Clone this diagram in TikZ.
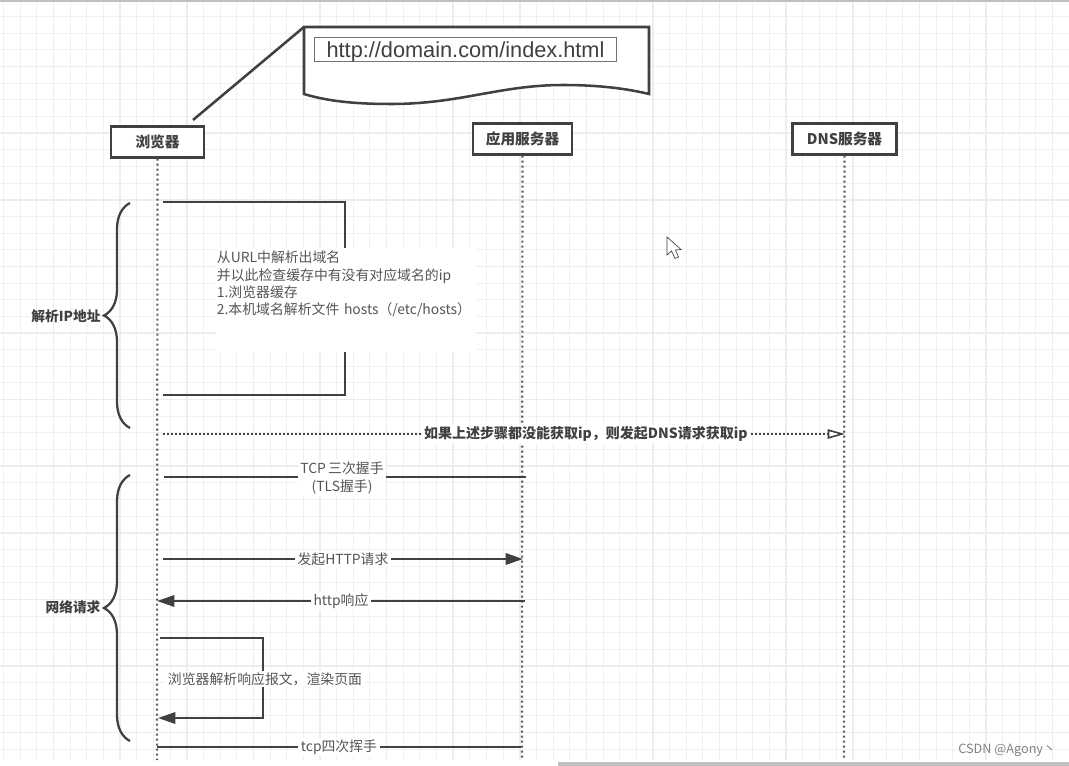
\documentclass[tikz,border=0pt]{standalone}
\usepackage{fontspec}
\setmainfont{Noto Sans CJK SC}
\newfontfamily\urlfont{Liberation Sans}
\usetikzlibrary{arrows.meta,decorations.pathreplacing}
\definecolor{inkline}{HTML}{404040}
\definecolor{inktext}{HTML}{555555}
\begin{document}
\begin{tikzpicture}[
    x=0.75pt, y=-0.75pt,
    minorgrid/.style={draw=black!6, line width=0.7pt},
    majorgrid/.style={draw=black!7, line width=1.2pt},
    actor/.style={draw=inkline, fill=white, line width=1.9pt, minimum height=23pt, inner sep=0pt, text=inkline, font=\fontsize{11}{13}\selectfont\bfseries},
    lifeline/.style={draw=inkline!85, line width=1.6pt, dash pattern=on 1.6pt off 2.15pt},
    msg/.style={draw=inkline, line width=1.7pt},
    arrow/.style={msg, -{Triangle[length=13pt,width=8.5pt]}},
    reply/.style={draw=inkline, line width=1.4pt, dash pattern=on 1.5pt off 1.5pt, -{Triangle[open,length=13pt,width=7pt,line width=1.2pt,fill=white]}},
    msglabel/.style={fill=white, inner xsep=2pt, inner ysep=1pt, text=inktext, font=\fontsize{10.4}{14}\selectfont, align=center},
    bracket/.style={draw=inkline, line width=1.7pt, decorate, decoration={brace, amplitude=19.5pt, aspect=0.5}},
    phase/.style={text=inkline, font=\fontsize{10.3}{13}\selectfont\bfseries}
]
    \useasboundingbox (0,0) rectangle (1069,766);
    % grid
    \foreach \i in {0,...,64} \draw[minorgrid] ({3.6+16.65*\i},2) -- ({3.6+16.65*\i},760);
    \foreach \i in {1,...,45} \draw[minorgrid] (0,{16.65*\i}) -- (1069,{16.65*\i});
    \foreach \i in {0,...,15} \draw[majorgrid] ({53.6+66.6*\i},2) -- ({53.6+66.6*\i},760);
    \foreach \i in {1,...,11} \draw[majorgrid] (0,{66.6*\i}) -- (1069,{66.6*\i});
    \fill[black!25] (0,0) rectangle (1069,2);
    \fill[black!25] (558,762) rectangle (1069,766);

    % lifelines
    \node[actor, minimum width=70pt] (browser) at (157.5,142) {浏览器};
    \node[actor, minimum width=74pt] (app) at (522.5,139) {应用服务器};
    \node[actor, minimum width=78pt] (dns) at (844.5,139) {DNS服务器};
    \coordinate (browser-end) at (157,760);
    \coordinate (app-end) at (522,760);
    \coordinate (dns-end) at (844,760);
    \draw[lifeline] (browser) -- (browser-end);
    \draw[lifeline] (app) -- (app-end);
    \draw[lifeline] (dns) -- (dns-end);

    % url note
    \draw[msg, line width=1.9pt, fill=white] (304,27) coordinate (note) -- (649,27) -- (649,94)
        .. controls (620,87) and (590,85) .. (563,85)
        .. controls (500,85) and (460,104) .. (391,104)
        .. controls (360,104) and (330,102) .. (304,94) -- cycle;
    \node[draw=black!55, line width=0.8pt, fill=white, minimum width=227pt, minimum height=18.5pt, inner sep=0pt, text=inkline, text depth=2pt, text height=14pt, font=\urlfont\fontsize{16.3}{18}\selectfont] (url) at (465.5,49.5) {http://domain.com/index.html};
    \coordinate (note-tail) at (193,120);
    \draw[msg, line width=1.9pt] (note-tail) -- (note);

    % phase brackets
    \coordinate (phase-a-top) at (130,203);
    \coordinate (phase-a-bottom) at (130,428);
    \coordinate (phase-b-top) at (130,475);
    \coordinate (phase-b-bottom) at (130,741);
    \draw[bracket] (phase-a-bottom) -- (phase-a-top);
    \draw[bracket] (phase-b-bottom) -- (phase-b-top);
    \node[phase] (phase-a) at (66,316) {解析IP地址};
    \node[phase] (phase-b) at (73,607) {网络请求};

    % resolve ip
    \coordinate (resolve-a) at (163,202);
    \coordinate (resolve-b) at (163,395);
    \coordinate (resolve-c) at (345,300);
    \draw[msg] (resolve-a) -| (resolve-c) |- (resolve-b);
    \node[fill=white, anchor=north west, inner sep=0pt, inner xsep=0.5pt, text width=194pt, minimum height=78pt, align=left, text=inktext, font=\fontsize{10.4}{13}\selectfont] (resolve) at (216,248) {从URL中解析出域名\\并以此检查缓存中有没有对应域名的ip\\1.浏览器缓存\\2.本机域名解析文件 hosts（/etc/hosts）\\~\\~};

    % dns request
    \coordinate (query-a) at (163,434);
    \coordinate (query-b) at (845,434);
    \draw[reply] (query-a) -- node[pos=0.62, msglabel, text=inkline, font=\fontsize{10.5}{13}\selectfont\bfseries] (query) {如果上述步骤都没能获取ip，则发起DNS请求获取ip} (query-b);

    % network requests
    \coordinate (tcp-a) at (164,477);
    \coordinate (tcp-b) at (526,477);
    \draw[msg] (tcp-a) -- (tcp-b);
    \node[msglabel] (tcp) at (342,478) {TCP\,三次握手\\(TLS握手)};
    \coordinate (http-a) at (163,559);
    \coordinate (http-b) at (523,559);
    \draw[arrow] (http-a) -- node[pos=0.5, msglabel] (http) {发起HTTP请求} (http-b);
    \coordinate (resp-a) at (525,601);
    \coordinate (resp-b) at (157,601);
    \draw[arrow] (resp-a) -- node[pos=0.5, msglabel] (resp) {http响应} (resp-b);
    \coordinate (render-a) at (160,638);
    \coordinate (render-b) at (158,718);
    \coordinate (render-c) at (263,679);
    \draw[arrow] (render-a) -| (render-c) |- (render-b);
    \node[msglabel] (render) at (265,679) {浏览器解析响应报文，渲染页面};
    \coordinate (bye-a) at (157,747);
    \coordinate (bye-b) at (521,747);
    \draw[msg] (bye-a) -- node[pos=0.5, msglabel] (bye) {tcp四次挥手} (bye-b);

    % cursor and watermark
    \draw[draw=inkline, fill=white, line width=0.5pt] (667,237) -- (667,255) -- (671.5,251) -- (675,258.5) -- (678.5,257) -- (675.5,250) -- (681,249.5) -- cycle;
    \node[anchor=east, inner sep=0pt, text=black!50, font=\fontsize{9.5}{11}\selectfont] (mark) at (1056,750) {CSDN @Agony丶};
\end{tikzpicture}
\end{document}
